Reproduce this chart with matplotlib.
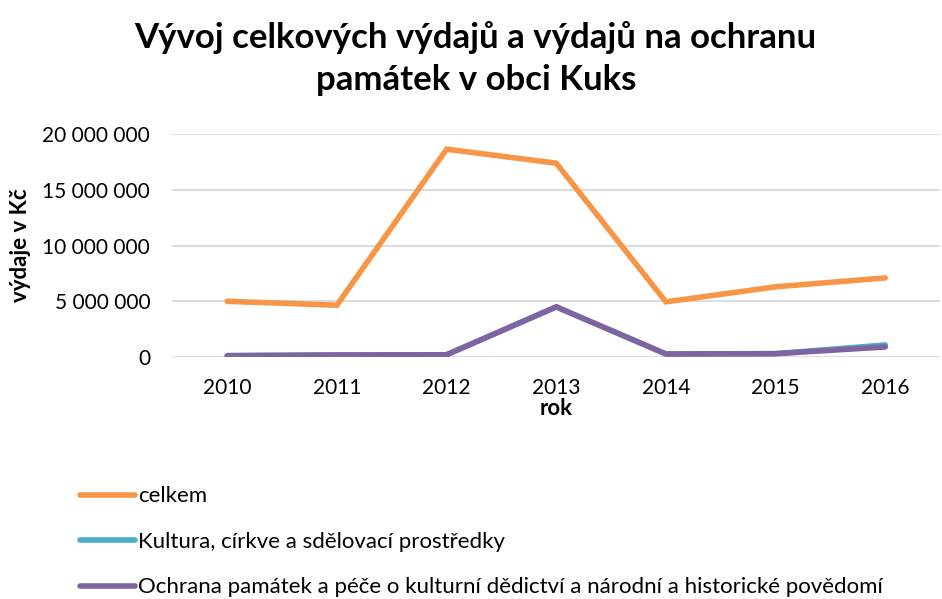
import matplotlib
matplotlib.use("Agg")
import matplotlib.pyplot as plt
from matplotlib.ticker import FuncFormatter

plt.rcParams['font.family'] = ['Lato', 'DejaVu Sans']

years = ['2010', '2011', '2012', '2013', '2014', '2015', '2016']
celkem = [5.0e6, 4.65e6, 18.65e6, 17.4e6, 4.95e6, 6.3e6, 7.1e6]
kultura = [0.12e6, 0.18e6, 0.2e6, 4.5e6, 0.27e6, 0.3e6, 1.08e6]
ochrana = [0.12e6, 0.18e6, 0.2e6, 4.5e6, 0.27e6, 0.3e6, 0.9e6]

labels = ['celkem',
          'Kultura, církve a sdělovací prostředky',
          'Ochrana památek a péče o kulturní dědictví a národní a historické povědomí']
colors = ['#f79646', '#4bacc6', '#8064a2']

fig = plt.figure(figsize=(9.42, 5.99), dpi=100)
ax = fig.add_axes([0.183, 0.404, 0.815, 0.372])

x = range(len(years))
for vals, lab, col in zip([celkem, kultura, ochrana], labels, colors):
    ax.plot(x, vals, color=col, lw=4, label=lab, solid_capstyle='round',
            solid_joinstyle='miter')

ax.set_xlim(-0.5, 6.5)
ax.set_ylim(0, 20e6)
ax.set_xticks(list(x))
ax.set_xticklabels(years)
ax.set_yticks([0, 5e6, 10e6, 15e6, 20e6])
ax.yaxis.set_major_formatter(FuncFormatter(lambda v, p: f"{int(v):,}".replace(",", " ")))
ax.tick_params(length=0, labelsize=15, pad=15)
ax.tick_params(axis='y', pad=16)
ax.grid(axis='y', color='#d9d9d9', lw=1.3)
ax.set_axisbelow(True)
for s in ax.spines.values():
    s.set_visible(False)

ax.set_xlabel('rok', fontsize=16, fontweight='bold', labelpad=0)
ax.set_ylabel('výdaje v Kč', fontsize=16, fontweight='bold', labelpad=8)

fig.text(0.505, 0.902, 'Vývoj celkových výdajů a výdajů na ochranu\npamátek v obci Kuks',
         ha='center', va='center', fontsize=25, fontweight='bold', linespacing=1.4)

fig.legend(loc='upper left', bbox_to_anchor=(0.075, 0.203), frameon=False,
           fontsize=16, handlelength=2.5, handletextpad=0.15, labelspacing=1.15,
           borderaxespad=0)

fig.savefig('out.png', dpi=100)
